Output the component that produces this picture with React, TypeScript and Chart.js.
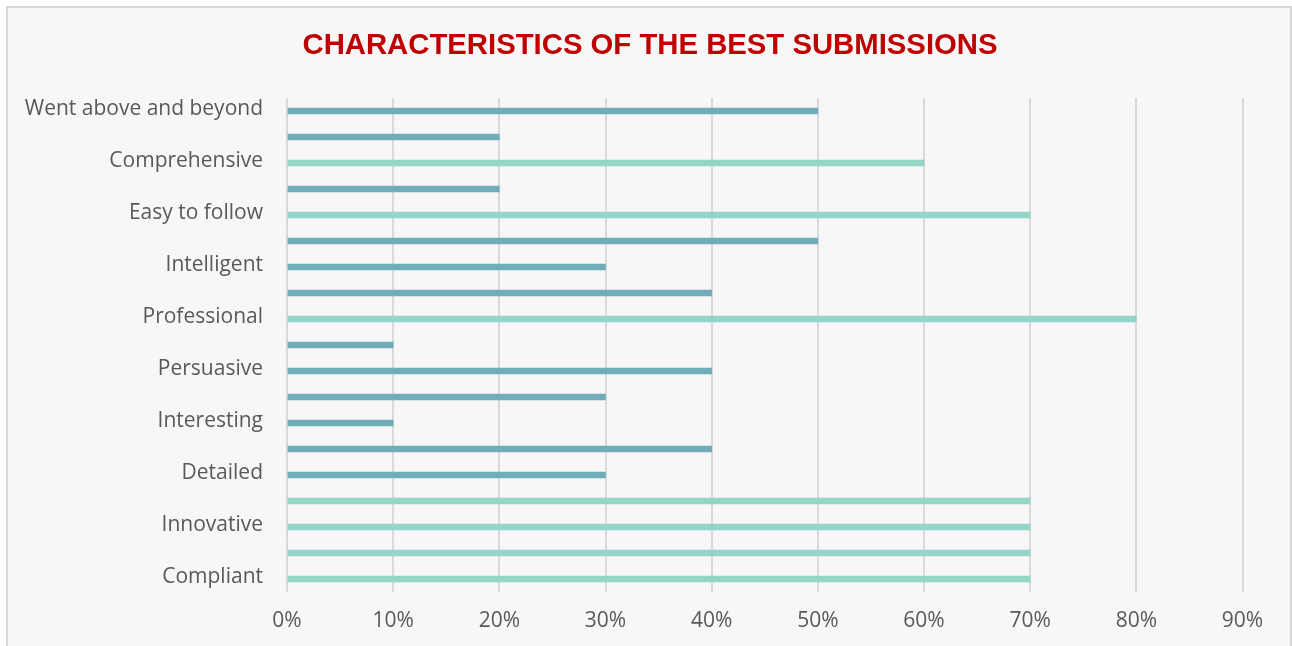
import React, { useEffect, useRef } from "react";
import { Chart, registerables } from "chart.js";

Chart.register(...registerables);

const titleText = "CHARACTERISTICS OF THE BEST SUBMISSIONS";

const categories = [
  "Went above and beyond",
  "",
  "Comprehensive",
  "",
  "Easy to follow",
  "",
  "Intelligent",
  "",
  "Professional",
  "",
  "Persuasive",
  "",
  "Interesting",
  "",
  "Detailed",
  "",
  "Innovative",
  "",
  "Compliant",
];

const darkSeries = [50, 20, null, 20, null, 50, 30, 40, null, 10, 40, 30, 10, 40, 30, null, null, null, null];
const lightSeries = [null, null, 60, null, 70, null, null, null, 80, null, null, null, null, null, null, 70, 70, 70, 70];

const xTickMin = 0;
const xTickMax = 90;
const xTickStep = 10;

const centeredTitle = {
  id: "centeredTitle",
  afterDraw(chart: any) {
    const ctx = chart.ctx;
    ctx.save();
    ctx.font = "bold 29.3px 'Liberation Sans', Arial, sans-serif";
    ctx.fillStyle = "#C00000";
    ctx.textAlign = "center";
    ctx.textBaseline = "middle";
    ctx.fillText(titleText, 650, 46);
    ctx.restore();
  },
};

export default function App() {
  const canvasRef = useRef<HTMLCanvasElement | null>(null);

  useEffect(() => {
    if (!canvasRef.current) return;
    const labelFont = { family: "'Open Sans', 'Noto Sans', sans-serif", size: 21 };
    const chart = new Chart(canvasRef.current, {
      type: "bar",
      data: {
        labels: categories,
        datasets: [
          {
            label: "dark",
            data: darkSeries as any,
            backgroundColor: "#70ADB8",
            barThickness: 6,
            grouped: false,
          },
          {
            label: "light",
            data: lightSeries as any,
            backgroundColor: "#95D5C8",
            barThickness: 6,
            grouped: false,
          },
        ],
      },
      plugins: [centeredTitle],
      options: {
        indexAxis: "y",
        animation: false,
        responsive: false,
        devicePixelRatio: 1,
        layout: { padding: { top: 98, right: 49.5, bottom: 14, left: 0 } },
        plugins: {
          legend: { display: false },
          tooltip: { enabled: false },
          title: { display: false },
        },
        scales: {
          x: {
            min: xTickMin,
            max: xTickMax,
            grid: { color: "#dadada", lineWidth: 2, drawTicks: false },
            border: { display: false },
            ticks: {
              stepSize: xTickStep,
              padding: 16,
              color: "#595959",
              font: labelFont,
              callback: (v: any) => `${v}%`,
            },
            afterFit: (scale: any) => {
              scale.height = 40;
            },
          },
          y: {
            grid: { display: false, drawTicks: false },
            border: { display: false },
            ticks: {
              autoSkip: false,
              padding: 24,
              color: "#595959",
              font: labelFont,
              labelOffset: -2,
            },
            afterFit: (scale: any) => {
              scale.width = 287;
            },
          },
        },
      },
    });
    return () => chart.destroy();
  }, []);

  return (
    <div style={{ position: "absolute", left: 0, top: 0, width: 1292, height: 646, overflow: "hidden", background: "#ffffff" }}>
      <div
        style={{
          position: "absolute",
          left: 6,
          top: 6,
          width: 1286,
          height: 680,
          boxSizing: "border-box",
          border: "2px solid #d9d9d9",
          background: "#f7f7f7",
        }}
      />
      <canvas ref={canvasRef} width={1292} height={646} style={{ position: "absolute", left: 0, top: 0, width: 1292, height: 646 }} />
    </div>
  );
}
